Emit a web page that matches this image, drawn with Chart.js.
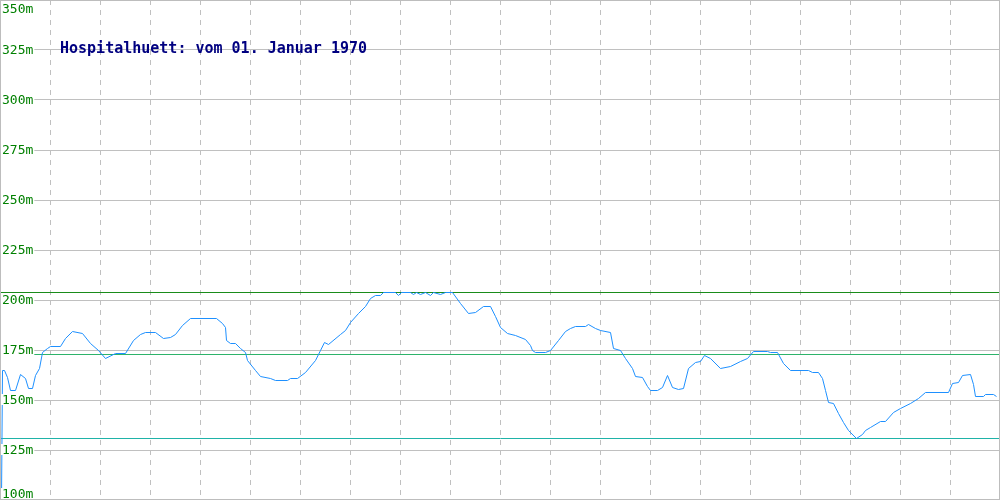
<!DOCTYPE html>
<html>
<head>
<meta charset="utf-8">
<script src="https://cdn.jsdelivr.net/npm/chart.js@4/dist/chart.umd.min.js"></script>
<style>
  html, body { margin: 0; padding: 0; background: #fff; }
  #wrap { width: 1000px; height: 500px; }
</style>
</head>
<body>
<div id="wrap"><canvas id="hoehe" width="1000" height="500"></canvas></div>
<script>
const titel = 'Hospitalhuett: vom 01. Januar 1970';

// x = position along the track, y = altitude in m
const streckeX = [1, 2, 4, 7, 10, 15, 20, 25, 28, 32, 35, 39, 42, 47, 50, 60, 65, 72, 82, 90,
  98, 105, 115, 125, 133, 140, 145, 155, 163, 170, 175, 182, 190, 216, 222, 225, 226, 230, 235, 240,
  245, 247, 255, 260, 270, 275, 287, 290, 297, 305, 315, 320, 324, 328, 340, 345, 350, 358, 365, 370,
  375, 380, 383, 395, 398, 401, 410, 413, 416, 420, 425, 430, 433, 440, 445, 452, 460, 468, 475, 483,
  490, 495, 500, 507, 515, 525, 530, 532, 535, 545, 550, 558, 565, 570, 575, 585, 588, 595, 600, 610,
  613, 620, 625, 632, 635, 642, 647, 650, 657, 662, 667, 672, 678, 683, 688, 695, 700, 704, 710, 720,
  730, 740, 747, 753, 767, 770, 777, 783, 790, 808, 812, 818, 822, 825, 828, 833, 838, 843, 848, 856,
  862, 865, 870, 880, 885, 893, 900, 910, 918, 925, 948, 952, 958, 962, 970, 973, 975, 983, 985, 993, 996];
const hoehe = [100, 165, 165, 161.5, 155, 155, 163, 161, 156, 156, 162.5, 166, 174, 176, 177, 177, 181, 184.5, 183.5, 178.5,
  175, 171, 173.5, 173.5, 180, 183, 184, 184, 181, 181.5, 183, 187.5, 191, 191, 188.5, 186.5, 180, 178.5, 178.5, 176,
  174, 170, 165, 162, 161, 160, 160, 161, 161, 164, 170, 175, 179, 178, 183, 185, 189, 193.5, 197, 201,
  202.5, 202.5, 204, 204, 202.5, 204, 204, 203, 204, 203, 204, 202.5, 204, 203, 204, 204, 198.5, 193.5, 194, 197,
  197, 192, 186.5, 183.5, 182.5, 180.5, 177.5, 175, 174, 174, 175, 180, 184.5, 186, 187, 187, 188, 186, 185, 184,
  176, 175, 171, 166, 162, 161.5, 157, 155, 155, 156.5, 162.5, 156.5, 155.5, 156, 166, 169, 169.5, 172.5, 171, 166,
  167, 169.5, 171, 174.5, 174.5, 174, 174, 168.5, 165, 165, 164, 164, 161, 155, 149, 148.5, 143.5, 139, 135, 131,
  133, 135, 136.5, 139.5, 139.5, 144, 146, 148.5, 151, 154, 154, 158.5, 159, 162.5, 163, 158, 152, 152, 153, 153, 152];

// reference lines: maximum, mean, minimum
const maxHoehe = 204;
const mittelHoehe = 173;
const minHoehe = 131;

const yTickWerte = [100, 125, 150, 175, 200, 225, 250, 275, 300, 325, 350];
const yTickLabels = ['100m', '125m', '150m', '175m', '200m', '225m', '250m', '275m', '300m', '325m', '350m'];

const punkte = streckeX.map((x, i) => ({ x: x, y: hoehe[i] }));
const quer = (v) => [{ x: 0, y: v }, { x: 1000, y: v }];

// shift the 1px lines onto pixel centres so they stay crisp
const scharf = {
  id: 'scharf',
  beforeDatasetsDraw(chart) {
    chart.ctx.save();
    chart.ctx.translate(0.5, 0.5);
  },
  afterDatasetsDraw(chart) {
    chart.ctx.restore();
  }
};

// labels sit inside the plot, with the first and last kept on the canvas
const achsenText = {
  id: 'achsenText',
  afterDraw(chart) {
    const ctx = chart.ctx, sy = chart.scales.y;
    ctx.save();
    ctx.font = '13px "DejaVu Sans Mono"';
    ctx.textBaseline = 'alphabetic';
    sy.ticks.forEach((t) => {
      const idx = yTickWerte.indexOf(t.value);
      if (idx < 0) return;
      const txt = yTickLabels[idx];
      let base = sy.getPixelForValue(t.value) + 4;
      base = Math.min(Math.max(base, 13), 498);
      const w = ctx.measureText(txt).width;
      ctx.fillStyle = '#fff';
      ctx.fillRect(1, base - 10, w + 2, 11);
      ctx.fillStyle = '#008000';
      ctx.fillText(txt, 2, base);
    });
    ctx.font = 'bold 15px "DejaVu Sans Mono"';
    ctx.fillStyle = '#000080';
    ctx.fillText(titel, 60, 53);
    ctx.strokeStyle = '#bdbdbd';
    ctx.lineWidth = 1;
    ctx.strokeRect(0.5, 0.5, 999, 499);
    ctx.restore();
  }
};

new Chart('hoehe', {
  type: 'line',
  data: {
    datasets: [
      { data: punkte, borderColor: '#1e90ff', borderWidth: 1, pointRadius: 0, tension: 0, order: 0 },
      { data: quer(maxHoehe), borderColor: '#1a8c1a', borderWidth: 1, pointRadius: 0, order: 1 },
      { data: quer(mittelHoehe), borderColor: '#2db36a', borderWidth: 1, pointRadius: 0, order: 1 },
      { data: quer(minHoehe), borderColor: '#1fb3a8', borderWidth: 1, pointRadius: 0, order: 1 }
    ]
  },
  options: {
    responsive: false,
    animation: false,
    layout: { padding: 0 },
    plugins: { legend: { display: false }, tooltip: { enabled: false } },
    scales: {
      x: {
        type: 'linear', min: 0, max: 1000,
        ticks: { display: false, stepSize: 50 },
        grid: { color: '#c0c0c0', drawTicks: false },
        border: { display: false, dash: [5, 5] }
      },
      y: {
        min: 100, max: 350,
        ticks: { display: false, stepSize: 25 },
        grid: { color: '#c0c0c0', drawTicks: false },
        border: { display: false }
      }
    }
  },
  plugins: [scharf, achsenText]
});
</script>
</body>
</html>
